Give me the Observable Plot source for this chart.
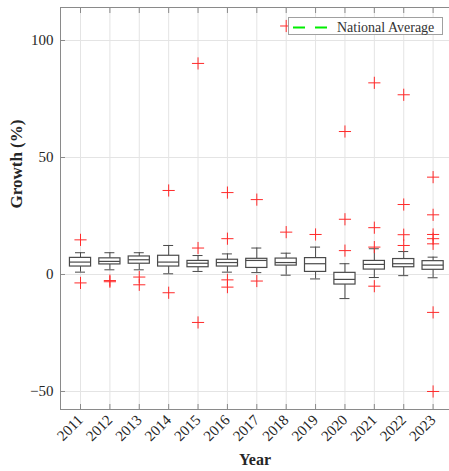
<!DOCTYPE html>
<html><head><meta charset="utf-8">
<script src="https://cdn.jsdelivr.net/npm/d3@7"></script>
<script src="https://cdn.jsdelivr.net/npm/@observablehq/plot@0.6"></script>
<style>
body{margin:0;background:#fff;}
#wrap{position:relative;width:449px;height:471px;overflow:hidden;}
#legend{position:absolute;left:0;top:0;pointer-events:none;}
</style>
</head><body>
<div id="wrap"></div>
<script>
// ---- data ----
const years = [2011,2012,2013,2014,2015,2016,2017,2018,2019,2020,2021,2022,2023];
const whiskerLow  = [1.0, 2.0, 2.0, 0.3, 1.3, 1.0, 0.8, -0.3, -1.9, -10.3, -1.3, -0.5, -1.4];
const q1          = [3.4, 4.3, 4.6, 3.4, 3.1, 3.4, 2.8, 3.8, 1.1, -4.3, 2.1, 3.1, 2.0];
const median      = [5.3, 5.6, 6.3, 5.3, 4.8, 5.1, 6.0, 5.1, 4.6, -2.1, 4.3, 4.6, 4.0];
const q3          = [7.1, 6.9, 7.7, 8.0, 5.8, 6.3, 6.7, 6.8, 7.0, 0.7, 5.8, 6.6, 5.7];
const whiskerHigh = [9.3, 9.3, 9.3, 12.4, 8.1, 8.8, 11.3, 9.1, 11.7, 4.6, 11.0, 9.8, 7.4];
const outlierYears  = [2011,2011, 2012,2012, 2013,2013, 2014,2014, 2015,2015,2015, 2016,2016,2016,2016, 2017,2017, 2018,2018, 2019, 2020,2020,2020, 2021,2021,2021,2021, 2022,2022,2022,2022, 2023,2023,2023,2023,2023,2023,2023];
const outlierValues = [14.8,-3.6, -2.6,-3.1, -1.1,-4.4, 35.9,-7.8, 90.2,11.3,-20.5, 35.0,15.3,-2.3,-5.4, 32.0,-2.8, 106.2,18.1, 17.1, 61.1,23.6,10.2, 81.9,20.0,11.7,-5.0, 76.8,29.9,17.0,12.4, 41.6,25.5,17.1,15.3,13.1,-16.2,-50.0];
const yTicks = [-50, 0, 50, 100];
const legendLabel = "National Average";

const boxes = years.map((y,i)=>({year:y, lo:whiskerLow[i], q1:q1[i], med:median[i], q3:q3[i], hi:whiskerHigh[i]}));
const outliers = outlierYears.map((y,i)=>({year:y, value:outlierValues[i]}));

const FONT = "'Liberation Serif', 'Times New Roman', 'DejaVu Serif', serif";
const BW = 0.36, CW = 0.17;
const xDom = [2010.319, 2023.558];
const yDom = [-57.7, 114.1];
const boxColor = "#4a4a4a";
const axisColor = "#8a8a8a";
const gridColor = "#e4e4e4";

const chart = Plot.plot({
  width:449, height:471,
  marginLeft:60, marginRight:0, marginTop:7, marginBottom:62,
  style:{fontFamily:FONT, fontSize:"15px", color:"#262626", background:"#fff"},
  x:{type:"linear", domain:xDom, label:null},
  y:{domain:yDom, label:null},
  marks:[
    Plot.gridX(years, {stroke:gridColor, strokeOpacity:1}),
    Plot.gridY(yTicks, {stroke:gridColor, strokeOpacity:1}),
    Plot.ruleX([xDom[0]], {stroke:axisColor}),
    Plot.ruleY([yDom[0], yDom[1]], {stroke:axisColor}),
    Plot.axisY(yTicks, {tickSize:0, tickPadding:7, label:null, fontSize:15, fontFamily:FONT}),
    Plot.axisY(yTicks, {tickSize:-5, tickFormat:()=>"", label:null, stroke:axisColor}),
    Plot.axisX(years, {anchor:"bottom", tickSize:-5, tickFormat:()=>"", label:null, stroke:axisColor}),
    Plot.axisX(years, {anchor:"top", tickSize:-5, tickFormat:()=>"", label:null, stroke:axisColor}),
    Plot.axisX(years, {anchor:"bottom", tickSize:0, tickPadding:8, tickRotate:-45, tickFormat:"d", label:null, fontSize:15, fontFamily:FONT}),
    Plot.ruleX(boxes, {x:"year", y1:"q3", y2:"hi", stroke:boxColor}),
    Plot.ruleX(boxes, {x:"year", y1:"lo", y2:"q1", stroke:boxColor}),
    Plot.ruleY(boxes, {y:"hi", x1:d=>d.year-CW, x2:d=>d.year+CW, stroke:boxColor}),
    Plot.ruleY(boxes, {y:"lo", x1:d=>d.year-CW, x2:d=>d.year+CW, stroke:boxColor}),
    Plot.rect(boxes, {x1:d=>d.year-BW, x2:d=>d.year+BW, y1:"q1", y2:"q3", fill:"white", stroke:boxColor, strokeWidth:1.2}),
    Plot.ruleY(boxes, {y:"med", x1:d=>d.year-BW, x2:d=>d.year+BW, stroke:boxColor, strokeWidth:1.2}),
    Plot.dot(outliers, {x:"year", y:"value", symbol:"plus", r:4, stroke:"#ff2a2a", strokeWidth:1}),
    Plot.text(["Year"], {frameAnchor:"bottom", dy:50, fontWeight:"bold", fontSize:16, lineAnchor:"middle", fill:"#262626", fontFamily:FONT}),
    Plot.text(["Growth (%)"], {frameAnchor:"left", dx:-44, rotate:-90, fontWeight:"bold", fontSize:17, lineAnchor:"middle", fill:"#262626", fontFamily:FONT})
  ]
});
const wrap = document.getElementById("wrap");
wrap.appendChild(chart);

const ns = "http://www.w3.org/2000/svg";
const lg = document.createElementNS(ns, "svg");
lg.setAttribute("id","legend"); lg.setAttribute("width","449"); lg.setAttribute("height","471");
lg.innerHTML = `<rect x="288.5" y="17.5" width="154" height="17" fill="#fff" stroke="#a0a0a0" stroke-width="1"/>
<line x1="293" y1="27.5" x2="327" y2="27.5" stroke="#00ee00" stroke-width="2.2" stroke-dasharray="12 10"/>
<text x="337" y="31.5" font-size="14" fill="#333"></text>`;
const t = lg.querySelector("text");
t.setAttribute("font-family", FONT);
t.textContent = legendLabel;
wrap.appendChild(lg);
</script>
</body></html>
